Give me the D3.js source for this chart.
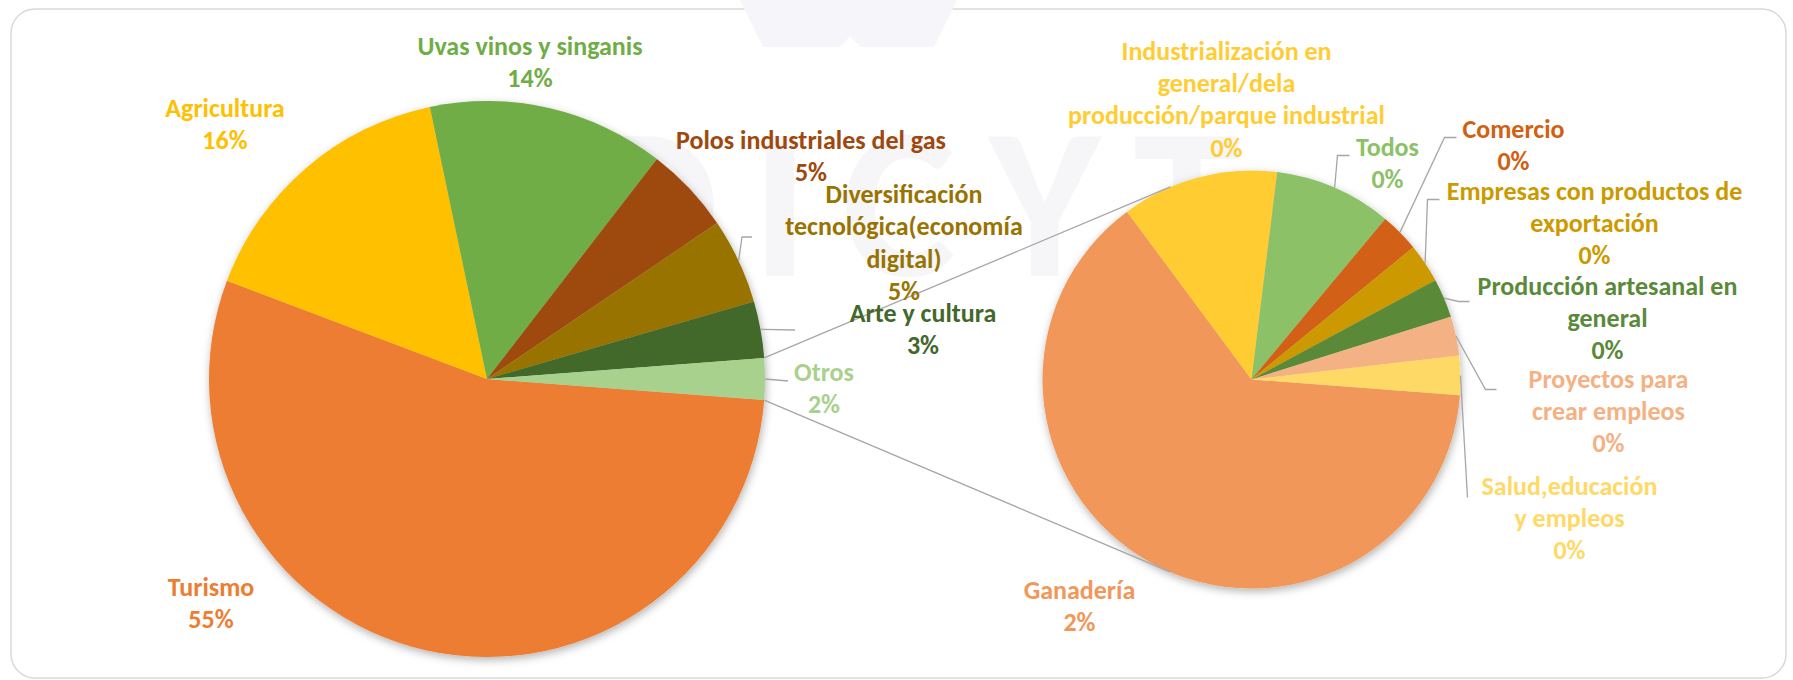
<!DOCTYPE html>
<html>
<head>
<meta charset="utf-8">
<script src="https://cdn.jsdelivr.net/npm/d3@7"></script>
<style>
  body { margin: 0; background: #fff; }
  svg text { font-family: Carlito, Calibri, Lato, sans-serif; font-weight: bold; }
</style>
</head>
<body>
<svg id="chart" width="1793" height="680"></svg>
<script>
// primer pie (conteos), "Otros" = suma del segundo pie
const mainCats = ["Turismo", "Agricultura", "Uvas vinos y singanis", "Polos industriales del gas",
                  "Diversificación|tecnológica(economía|digital)", "Arte y cultura", "Otros"];
const mainVals = [745, 218, 188, 69, 68, 45, null];
const mainColors = ["#ED7D31", "#FFC000", "#70AD47", "#9E480E", "#997300", "#43682B", "#A9D18E"];

// segundo pie (desglose de Otros)
const subCats = ["Ganadería", "Industrialización en|general/dela|producción/parque industrial", "Todos", "Comercio",
                 "Empresas con productos de|exportación", "Producción artesanal en|general",
                 "Proyectos para|crear empleos", "Salud,educación|y empleos"];
const subVals = [21, 4, 3, 1, 1, 1, 1, 1];
const subColors = ["#F1975A", "#FFCD33", "#8CC168", "#D26012", "#CC9A00", "#5A8A39", "#F4B183", "#FFD966"];

// posicion de etiquetas (offset desde el centro de cada pie) y lineas guia
const mainLabelPos = [[-276, 217], [-262, -262], [43, -324], [324, -230], [417, -176], [436, -57], [337, 2]];
const mainLeaders = [null, null, null, null, {end: [265, -142], h: 10}, {end: [308, -49], h: 0}, {end: [301, 2], h: 0}];
const subLabelPos = [[-172, 219], [-25, -320], [136, -224], [262, -242], [343, -180], [356, -85], [357, 8], [318, 115]];
const subLeaders = [null, null, {end: [98, -224], h: 12}, {end: [205, -242], h: 12}, {end: [188, -180], h: 12},
                    {end: [218, -78], h: 11}, {end: [245, 10], h: 11}, {end: [216, 118], h: 0}];

const svg = d3.select("#chart");
const mainC = [487, 379], mainR = 278;
const subC = [1251.5, 379.5], subR = 209;
const fontSize = 26, lineH = 32.4;
const leaderColor = "#A6A6A6";

mainVals[6] = d3.sum(subVals);
const total = d3.sum(mainVals);
const pct = d3.format(".0%");

// tarjeta
svg.append("rect")
    .attr("x", 11).attr("y", 9)
    .attr("width", 1775).attr("height", 669)
    .attr("rx", 24)
    .attr("fill", "#fff")
    .attr("stroke", "#d9d9d9")
    .attr("stroke-width", 1.5);

// marca de agua
svg.append("polygon")
    .attr("points", "740,0 763,47 840,47 850,36 860,47 934,47 957,0")
    .attr("fill", "#f5f5fa");
svg.append("text")
    .attr("x", 583).attr("y", 276)
    .attr("textLength", 657).attr("lengthAdjust", "spacing")
    .style("font-size", "215px")
    .attr("fill", "#f6f6f8")
    .text("DICYT");

const defs = svg.append("defs");
defs.append("filter").attr("id", "shadow")
    .attr("x", "-10%").attr("y", "-10%").attr("width", "120%").attr("height", "120%")
  .append("feDropShadow")
    .attr("dx", 1).attr("dy", 3)
    .attr("stdDeviation", 4)
    .attr("flood-color", "#000")
    .attr("flood-opacity", 0.3);

// mismo angulo inicial en ambos pies: Otros centrado a las 3 en punto
const otrosAngle = 2 * Math.PI * mainVals[6] / total;
const start = Math.PI / 2 + otrosAngle / 2;

const pie = d3.pie().sort(null).value(d => d.value)
    .startAngle(start).endAngle(start + 2 * Math.PI);

const mainArcs = pie(mainCats.map((c, i) => ({name: c, value: mainVals[i]})));
const subArcs = pie(subCats.map((c, i) => ({name: c, value: subVals[i]})));

function edgePoint(center, r, a) {
  return [center[0] + r * Math.sin(a), center[1] - r * Math.cos(a)];
}

function drawPie(arcs, center, r, colors) {
  const arc = d3.arc().innerRadius(0).outerRadius(r);
  svg.append("g")
      .attr("transform", `translate(${center[0]},${center[1]})`)
      .attr("filter", "url(#shadow)")
    .selectAll("path")
    .data(arcs)
    .join("path")
      .attr("d", arc)
      .attr("fill", (d, i) => colors[i]);
}

drawPie(mainArcs, mainC, mainR, mainColors);
drawPie(subArcs, subC, subR, subColors);

// lineas de union (tangentes al segundo pie)
const otros = mainArcs[6];
const pUp = edgePoint(mainC, mainR, otros.startAngle);
const pDown = edgePoint(mainC, mainR, otros.endAngle);

function tangents(p) {
  const dx = p[0] - subC[0], dy = p[1] - subC[1];
  const d = Math.hypot(dx, dy);
  const th = Math.atan2(dy, dx), off = Math.acos(subR / d);
  return [th + off, th - off].map(a => [subC[0] + subR * Math.cos(a), subC[1] + subR * Math.sin(a)]);
}
const tUp = tangents(pUp).sort((a, b) => a[1] - b[1])[0];
const tDown = tangents(pDown).sort((a, b) => b[1] - a[1])[0];

const line = d3.line();
svg.append("g")
  .selectAll("path")
  .data([[pUp, tUp], [pDown, tDown]])
  .join("path")
    .attr("d", line)
    .attr("fill", "none")
    .attr("stroke", leaderColor)
    .attr("stroke-width", 1.3);

function drawLabels(arcs, center, r, colors, pos, leaders) {
  const g = svg.append("g");
  arcs.forEach((d, i) => {
    const ld = leaders[i];
    if (ld) {
      const mid = (d.startAngle + d.endAngle) / 2;
      const s = edgePoint(center, r, mid);
      const e = [center[0] + ld.end[0], center[1] + ld.end[1]];
      g.append("path")
          .attr("d", line([s, [e[0] - ld.h, e[1]], e]))
          .attr("fill", "none")
          .attr("stroke", leaderColor)
          .attr("stroke-width", 1.3);
    }
    const lines = d.data.name.split("|").concat([pct(d.data.value / total)]);
    const t = g.append("text")
        .attr("text-anchor", "middle")
        .attr("fill", colors[i])
        .style("font-size", fontSize + "px");
    lines.forEach((txt, k) => {
      t.append("tspan")
          .attr("x", center[0] + pos[i][0])
          .attr("y", center[1] + pos[i][1] + k * lineH)
          .text(txt);
    });
  });
}

drawLabels(mainArcs, mainC, mainR, mainColors, mainLabelPos, mainLeaders);
drawLabels(subArcs, subC, subR, subColors, subLabelPos, subLeaders);
</script>
</body>
</html>
